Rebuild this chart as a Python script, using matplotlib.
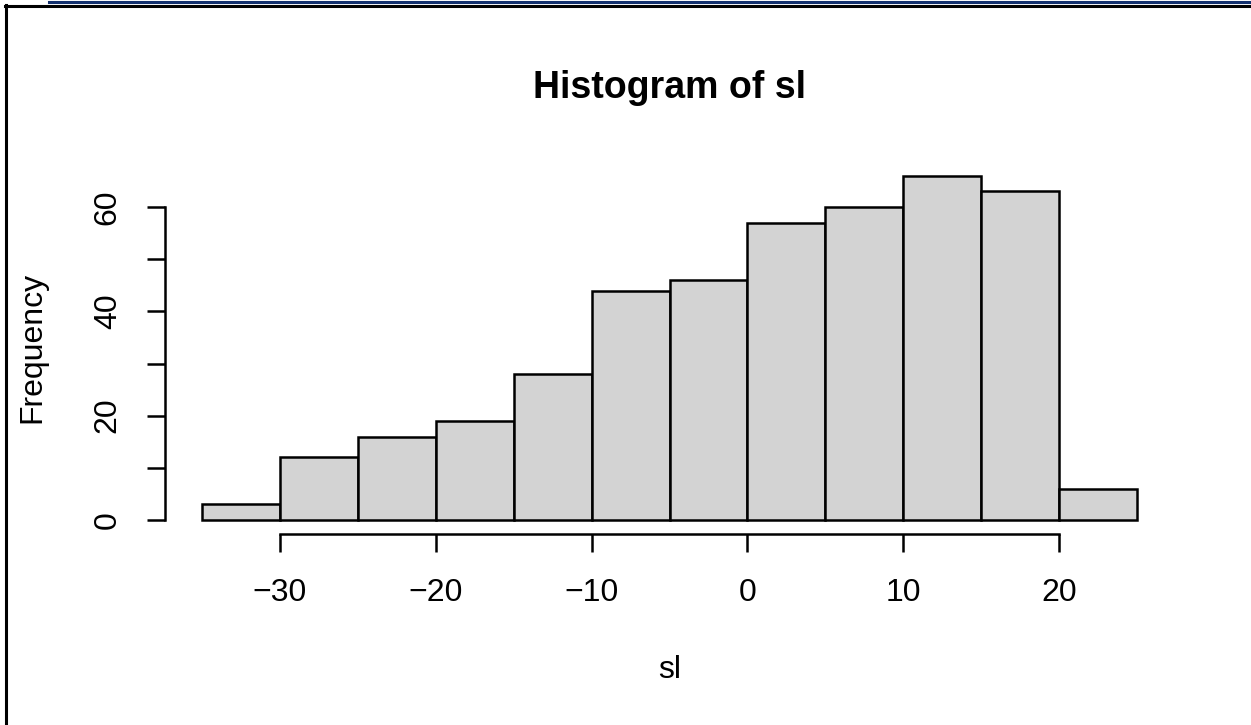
import matplotlib
matplotlib.use("Agg")
import matplotlib.pyplot as plt
from matplotlib.lines import Line2D
import numpy as np

# histogram of sl: bin edges and counts
bin_edges = [-35, -30, -25, -20, -15, -10, -5, 0, 5, 10, 15, 20, 25]
counts = [3, 12, 16, 19, 28, 44, 46, 57, 60, 66, 63, 6]
x_ticks = [-30, -20, -10, 0, 10, 20]
y_ticks = [0, 10, 20, 30, 40, 50, 60]
y_tick_labels = ["0", "", "20", "", "40", "", "60"]

plt.rcParams["font.family"] = ["Liberation Sans", "DejaVu Sans"]

W, H = 1251, 725
fig = plt.figure(figsize=(W / 100, H / 100), dpi=100)
ax = fig.add_axes([164.5 / W, 1 - 533.75 / H, 1010 / W, 371.75 / H])

lefts = np.array(bin_edges[:-1])
widths = np.diff(bin_edges)
ax.bar(lefts, counts, width=widths, align="edge", color="#d3d3d3",
       edgecolor="black", linewidth=1.8)

span = bin_edges[-1] - bin_edges[0]
ax.set_xlim(bin_edges[0] - 0.04 * span, bin_edges[-1] + 0.04 * span)
ymax = max(counts)
ax.set_ylim(-0.04 * ymax, ymax * 1.04)

for s in ["top", "right"]:
    ax.spines[s].set_visible(False)
ax.spines["left"].set_bounds(y_ticks[0], y_ticks[-1])
ax.spines["bottom"].set_bounds(x_ticks[0], x_ticks[-1])
for s in ["left", "bottom"]:
    ax.spines[s].set_linewidth(1.8)

ax.set_xticks(x_ticks)
ax.set_xticklabels([str(t).replace("-", "\u2212") for t in x_ticks])
ax.set_yticks(y_ticks)
ax.set_yticklabels(y_tick_labels, rotation=90, va="center")
ax.tick_params(axis="both", length=13, width=1.8, labelsize=23)
ax.tick_params(axis="x", pad=19)
ax.tick_params(axis="y", pad=17)

ax.set_xlabel("sl", fontsize=23, labelpad=34)
ax.set_ylabel("Frequency", fontsize=23, labelpad=33)
ax.set_title("Histogram of sl", fontsize=27, fontweight="bold", pad=46)

# screenshot frame
fig.add_artist(Line2D([6 / W, 6 / W], [0, 1 - 5 / H], transform=fig.transFigure,
                      color="black", linewidth=2.2))
fig.add_artist(Line2D([5 / W, 1], [1 - 6 / H, 1 - 6 / H], transform=fig.transFigure,
                      color="black", linewidth=2.2))
fig.add_artist(Line2D([49 / W, 1], [1 - 1.5 / H, 1 - 1.5 / H], transform=fig.transFigure,
                      color="#12306e", linewidth=2.2))

fig.savefig("out.png", dpi=100)
